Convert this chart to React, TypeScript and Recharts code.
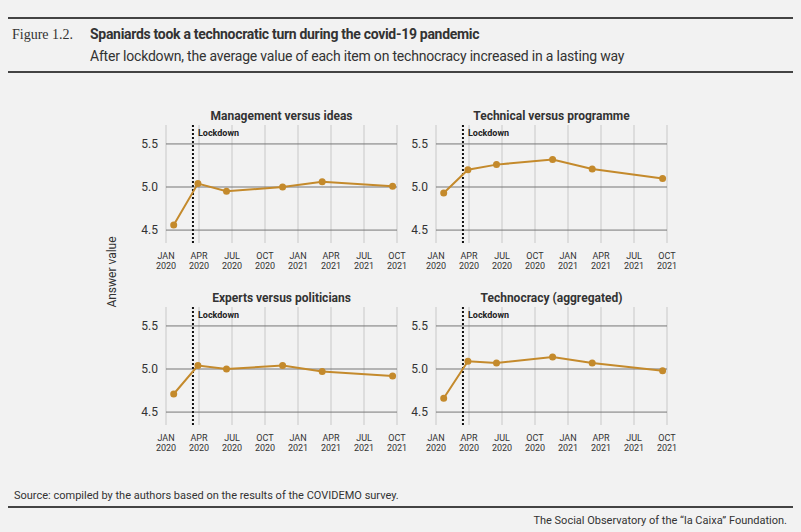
import { CartesianGrid, Line, LineChart, ReferenceLine, XAxis, YAxis } from 'recharts';

// months since Jan 2020
const MONTHS = [0.7, 2.9, 5.5, 10.6, 14.2, 20.6];
const LOCKDOWN = 2.45;
const X_TICKS = [0, 3, 6, 9, 12, 15, 18, 21];
const X_LABELS = ['JAN|2020', 'APR|2020', 'JUL|2020', 'OCT|2020', 'JAN|2021', 'APR|2021', 'JUL|2021', 'OCT|2021'];
const Y_TICKS = [4.5, 5, 5.5];

const MANAGEMENT = [4.56, 5.04, 4.95, 5.0, 5.06, 5.01];
const TECHNICAL = [4.93, 5.2, 5.26, 5.32, 5.21, 5.1];
const EXPERTS = [4.71, 5.04, 5.0, 5.04, 4.97, 4.92];
const TECHNOCRACY = [4.66, 5.09, 5.07, 5.14, 5.07, 4.98];

const GOLD = '#c48a2c';
const FONT = 'Roboto, "Liberation Sans", sans-serif';

function MonthTick(props: any) {
  const { x, y, payload } = props;
  const i = X_TICKS.indexOf(payload.value);
  const [m, yr] = (X_LABELS[i] || '').split('|');
  return (
    <text x={x} y={y + 8} textAnchor="middle" fontSize={9} fill="#333" fontFamily={FONT}>
      <tspan x={x}>{m}</tspan>
      <tspan x={x} dy={10}>{yr}</tspan>
    </text>
  );
}

function Panel({ title, values, left, top }: { title: string; values: number[]; left: number; top: number }) {
  const data = MONTHS.map((m, i) => ({ m, v: values[i] }));
  return (
    <div style={{ position: 'absolute', left, top }}>
      <div style={{ position: 'absolute', left: 40, width: 231, top: -11, textAlign: 'center', fontSize: 12, fontWeight: 700, color: '#333', fontFamily: FONT }}>
        {title}
      </div>
      <LineChart width={281} height={159} data={data} margin={{ top: 5, right: 10, left: 0, bottom: 0 }}>
        <CartesianGrid stroke="#c8c8c8" horizontal={false} />
        <XAxis dataKey="m" type="number" domain={[0, 21]} ticks={X_TICKS} tick={<MonthTick />} tickLine={false} axisLine={false} height={36} interval={0} />
        <YAxis type="number" domain={[4.35, 5.72]} ticks={Y_TICKS} width={40} tickLine={false} axisLine={false} tickFormatter={(v) => v.toFixed(1)} tick={{ fontSize: 12, fill: '#333', fontFamily: FONT }} />
        {Y_TICKS.map((t) => (
          <ReferenceLine key={t} y={t} stroke="#777" strokeWidth={1} />
        ))}
        <ReferenceLine x={LOCKDOWN} stroke="#111" strokeWidth={2} strokeDasharray="2 2"
          label={{ value: 'Lockdown', position: 'insideTopLeft', fontSize: 9, fontWeight: 700, fill: '#222', dx: 0, dy: 0, fontFamily: FONT }} />
        <Line dataKey="v" stroke={GOLD} strokeWidth={2} dot={{ r: 2.5, fill: GOLD, stroke: GOLD }} isAnimationActive={false} />
      </LineChart>
    </div>
  );
}

const rule = (top: number) => (
  <div style={{ position: 'absolute', left: 8, width: 785, top, height: 2, background: '#444' }} />
);

export default function App() {
  return (
    <div style={{ position: 'fixed', left: 0, top: 0, width: 801, height: 532, background: '#f2f2f2', fontFamily: FONT, color: '#333' }}>
      {rule(17)}
      <div style={{ position: 'absolute', left: 12, top: 27, fontFamily: '"Liberation Serif", serif', fontSize: 14 }}>Figure 1.2.</div>
      <div style={{ position: 'absolute', left: 90, top: 26, fontSize: 14, fontWeight: 700, letterSpacing: -0.3 }}>Spaniards took a technocratic turn during the covid-19 pandemic</div>
      <div style={{ position: 'absolute', left: 90, top: 48, fontSize: 14, letterSpacing: -0.2 }}>After lockdown, the average value of each item on technocracy increased in a lasting way</div>
      {rule(71)}

      <div style={{ position: 'absolute', left: 112, top: 272, transform: 'translate(-50%,-50%) rotate(-90deg)', fontSize: 12, whiteSpace: 'nowrap' }}>Answer value</div>

      <Panel title="Management versus ideas" values={MANAGEMENT} left={126} top={120} />
      <Panel title="Technical versus programme" values={TECHNICAL} left={396} top={120} />
      <Panel title="Experts versus politicians" values={EXPERTS} left={126} top={302} />
      <Panel title="Technocracy (aggregated)" values={TECHNOCRACY} left={396} top={302} />

      <div style={{ position: 'absolute', left: 14, top: 489, fontSize: 11 }}>Source: compiled by the authors based on the results of the COVIDEMO survey.</div>
      {rule(506)}
      <div style={{ position: 'absolute', right: 14, top: 514, fontSize: 11 }}>The Social Observatory of the “la Caixa” Foundation.</div>
    </div>
  );
}
